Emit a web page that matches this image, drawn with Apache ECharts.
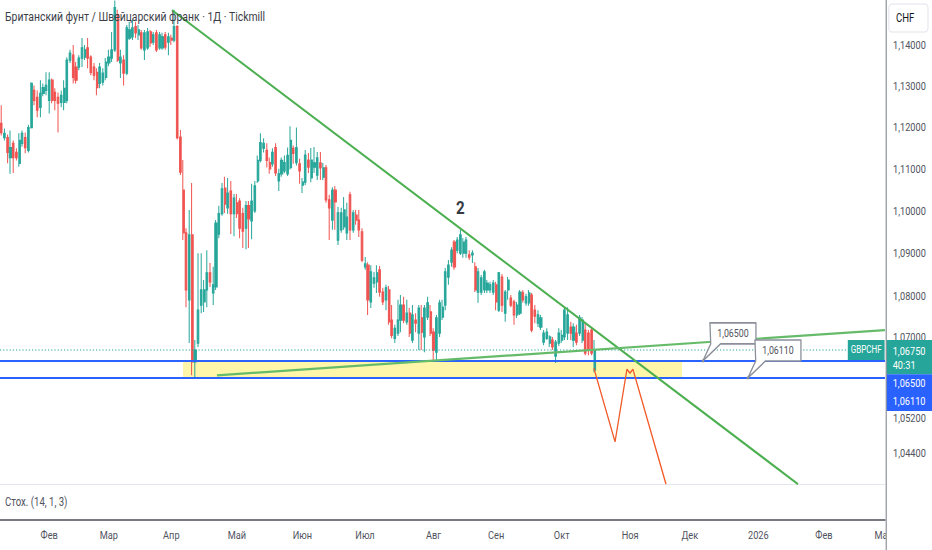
<!DOCTYPE html>
<html><head><meta charset="utf-8">
<script src="https://cdn.jsdelivr.net/npm/echarts@6/dist/echarts.min.js"></script>
<style>
html,body{margin:0;padding:0;background:#fff;overflow:hidden;width:932px;height:550px;}
#c{width:1165px;height:550px;transform:scaleX(0.8);transform-origin:0 0;}
</style></head><body><div id="c"></div>
<script>
// ---------- data ----------
const title = 'Британский фунт / Швейцарский франк · 1Д · Tickmill';
const stochLabel = 'Стох. (14, 1, 3)';
const monthNames = ['Янв','Фев','Мар','Апр','Май','Июн','Июл','Авг','Сен','Окт','Ноя','Дек'];
const firstDay = Date.UTC(2025, 0, 10);
const barCount = 297;
// daily candles [open, close, low, high]
const ohlc = [
[1.1209,1.1187,1.1180,1.1253],[1.1175,1.1185,1.1168,1.1197],[1.1175,1.1139,1.1113,1.1182],[1.1127,1.1151,1.1088,1.1192],
[1.1161,1.1127,1.1090,1.1168],[1.1139,1.1127,1.1120,1.1149],[1.1113,1.1168,1.1105,1.1185],[1.1161,1.1185,1.1153,1.1192],
[1.1175,1.1151,1.1137,1.1187],[1.1144,1.1199,1.1139,1.1206],[1.1199,1.1306,1.1197,1.1309],[1.1289,1.1265,1.1253,1.1301],
[1.1272,1.1241,1.1224,1.1289],[1.1248,1.1282,1.1224,1.1314],[1.1282,1.1296,1.1275,1.1306],[1.1289,1.1301,1.1277,1.1333],
[1.1265,1.1314,1.1233,1.1333],[1.1314,1.1265,1.1258,1.1318],[1.1284,1.1265,1.1241,1.1294],[1.1272,1.1258,1.1187,1.1284],
[1.1260,1.1277,1.1248,1.1289],[1.1260,1.1294,1.1241,1.1314],[1.1265,1.1363,1.1258,1.1370],[1.1363,1.1380,1.1356,1.1388],
[1.1375,1.1321,1.1306,1.1400],[1.1346,1.1314,1.1306,1.1358],[1.1346,1.1368,1.1338,1.1375],[1.1368,1.1393,1.1346,1.1417],
[1.1370,1.1388,1.1363,1.1400],[1.1393,1.1368,1.1343,1.1417],[1.1370,1.1333,1.1326,1.1375],[1.1346,1.1326,1.1314,1.1356],
[1.1333,1.1296,1.1277,1.1343],[1.1306,1.1346,1.1294,1.1356],[1.1309,1.1331,1.1301,1.1343],[1.1321,1.1358,1.1314,1.1368],
[1.1356,1.1370,1.1348,1.1388],[1.1368,1.1388,1.1358,1.1432],[1.1388,1.1492,1.1383,1.1510],[1.1475,1.1363,1.1358,1.1487],
[1.1356,1.1370,1.1319,1.1388],[1.1363,1.1331,1.1301,1.1375],[1.1331,1.1442,1.1326,1.1449],[1.1417,1.1437,1.1412,1.1457],
[1.1420,1.1442,1.1412,1.1462],[1.1445,1.1430,1.1417,1.1457],[1.1425,1.1437,1.1412,1.1449],[1.1430,1.1393,1.1388,1.1437],
[1.1388,1.1430,1.1363,1.1437],[1.1393,1.1432,1.1388,1.1442],[1.1432,1.1405,1.1395,1.1437],[1.1407,1.1425,1.1400,1.1432],
[1.1430,1.1388,1.1383,1.1437],[1.1393,1.1425,1.1388,1.1432],[1.1393,1.1420,1.1388,1.1430],[1.1425,1.1395,1.1388,1.1432],
[1.1407,1.1420,1.1375,1.1430],[1.1417,1.1412,1.1400,1.1425],[1.1412,1.1445,1.1407,1.1487],[1.1445,1.1175,1.1170,1.1449],
[1.1176,1.1092,1.1085,1.1193],[1.1049,1.0948,1.0931,1.1121],[1.0948,1.0814,1.0774,1.0959],[1.0791,1.0943,1.0691,1.1002],
[1.0943,1.0648,1.0617,1.1066],[1.0648,1.0675,1.0610,1.0698],[1.0691,1.0767,1.0682,1.0900],[1.0779,1.0814,1.0760,1.0900],
[1.0786,1.0814,1.0763,1.0837],[1.0814,1.0854,1.0774,1.0907],[1.0854,1.0833,1.0821,1.0877],[1.0807,1.0826,1.0779,1.0868],
[1.0821,1.0971,1.0814,1.0978],[1.0945,1.0993,1.0935,1.1012],[1.0993,1.1052,1.0988,1.1066],[1.1054,1.1016,1.0995,1.1081],
[1.1007,1.1042,1.0993,1.1078],[1.1047,1.0993,1.0945,1.1071],[1.0993,1.1030,1.0940,1.1040],[1.1019,1.0993,1.0983,1.1040],
[1.1023,1.0959,1.0935,1.1030],[1.0993,1.0952,1.0912,1.1007],[1.0959,1.1012,1.0909,1.1023],[1.1012,1.0981,1.0912,1.1023],
[1.0976,1.1023,1.0933,1.1064],[1.1000,1.1059,1.0995,1.1071],[1.1071,1.1120,1.1066,1.1132],[1.1120,1.1163,1.1115,1.1185],
[1.1149,1.1161,1.1139,1.1173],[1.1144,1.1120,1.1103,1.1161],[1.1115,1.1100,1.1088,1.1127],[1.1112,1.1139,1.1105,1.1149],
[1.1151,1.1090,1.1083,1.1161],[1.1071,1.1088,1.1047,1.1100],[1.1088,1.1120,1.1081,1.1127],[1.1095,1.1115,1.1090,1.1132],
[1.1088,1.1132,1.1083,1.1151],[1.1103,1.1168,1.1098,1.1202],[1.1149,1.1137,1.1112,1.1156],[1.1115,1.1151,1.1108,1.1199],
[1.1112,1.1095,1.1064,1.1124],[1.1061,1.1068,1.1042,1.1078],[1.1068,1.1133,1.1061,1.1145],[1.1121,1.1104,1.1090,1.1138],
[1.1078,1.1121,1.1068,1.1150],[1.1104,1.1114,1.1090,1.1152],[1.1085,1.1126,1.1073,1.1140],[1.1114,1.1102,1.1073,1.1140],
[1.1080,1.1102,1.1073,1.1114],[1.1102,1.1026,1.1019,1.1109],[1.1026,1.1007,1.0931,1.1038],[1.0978,1.1049,1.0955,1.1056],
[1.1049,1.1021,1.0955,1.1059],[1.0931,1.0995,1.0919,1.1009],[1.0955,1.0995,1.0948,1.1007],[1.0962,1.1002,1.0955,1.1033],
[1.0948,1.0985,1.0931,1.1019],[1.1038,1.0955,1.0931,1.1045],[1.0955,1.0995,1.0948,1.1002],[1.0990,1.0978,1.0967,1.1002],
[1.0978,1.0955,1.0938,1.1002],[1.0950,1.0884,1.0879,1.0959],[1.0868,1.0875,1.0861,1.0891],[1.0872,1.0791,1.0756,1.0879],
[1.0786,1.0856,1.0772,1.0872],[1.0830,1.0842,1.0819,1.0856],[1.0833,1.0854,1.0807,1.0872],[1.0861,1.0809,1.0798,1.0870],
[1.0809,1.0786,1.0779,1.0819],[1.0791,1.0819,1.0767,1.0826],[1.0814,1.0740,1.0733,1.0823],[1.0744,1.0709,1.0702,1.0779],
[1.0702,1.0725,1.0691,1.0733],[1.0714,1.0744,1.0707,1.0791],[1.0744,1.0779,1.0716,1.0802],[1.0779,1.0744,1.0737,1.0798],
[1.0740,1.0760,1.0733,1.0791],[1.0760,1.0714,1.0705,1.0772],[1.0698,1.0756,1.0691,1.0779],[1.0744,1.0737,1.0716,1.0760],
[1.0714,1.0772,1.0675,1.0779],[1.0749,1.0716,1.0675,1.0779],[1.0705,1.0772,1.0670,1.0779],[1.0751,1.0784,1.0744,1.0798],
[1.0763,1.0714,1.0707,1.0779],[1.0716,1.0675,1.0652,1.0725],[1.0670,1.0749,1.0652,1.0756],[1.0714,1.0784,1.0705,1.0791],
[1.0751,1.0774,1.0744,1.0791],[1.0779,1.0856,1.0767,1.0865],[1.0844,1.0872,1.0826,1.0884],[1.0879,1.0907,1.0868,1.0914],
[1.0926,1.0868,1.0861,1.0931],[1.0907,1.0931,1.0900,1.0938],[1.0900,1.0943,1.0896,1.0955],[1.0900,1.0926,1.0889,1.0936],
[1.0900,1.0931,1.0889,1.0938],[1.0896,1.0891,1.0884,1.0907],[1.0896,1.0900,1.0877,1.0907],[1.0868,1.0814,1.0809,1.0879],
[1.0809,1.0856,1.0784,1.0865],[1.0809,1.0842,1.0802,1.0849],[1.0814,1.0856,1.0807,1.0861],[1.0814,1.0830,1.0807,1.0837],
[1.0814,1.0826,1.0807,1.0833],[1.0809,1.0830,1.0802,1.0837],[1.0826,1.0786,1.0767,1.0833],[1.0767,1.0854,1.0763,1.0856],
[1.0844,1.0779,1.0763,1.0851],[1.0760,1.0809,1.0740,1.0814],[1.0814,1.0837,1.0791,1.0844],[1.0795,1.0779,1.0774,1.0802],
[1.0786,1.0756,1.0733,1.0791],[1.0756,1.0779,1.0749,1.0786],[1.0760,1.0809,1.0756,1.0814],[1.0807,1.0791,1.0784,1.0814],
[1.0784,1.0798,1.0777,1.0805],[1.0784,1.0807,1.0777,1.0814],[1.0802,1.0721,1.0716,1.0807],[1.0767,1.0753,1.0737,1.0779],
[1.0737,1.0756,1.0728,1.0767],[1.0728,1.0749,1.0721,1.0756],[1.0693,1.0714,1.0686,1.0721],[1.0702,1.0716,1.0698,1.0725],
[1.0691,1.0705,1.0682,1.0709],[1.0698,1.0682,1.0675,1.0705],[1.0661,1.0693,1.0645,1.0698],[1.0691,1.0714,1.0684,1.0725],
[1.0698,1.0709,1.0691,1.0721],[1.0705,1.0767,1.0698,1.0774],[1.0714,1.0756,1.0698,1.0774],[1.0728,1.0714,1.0698,1.0740],
[1.0698,1.0728,1.0682,1.0737],[1.0714,1.0693,1.0686,1.0733],[1.0714,1.0749,1.0707,1.0756],[1.0698,1.0744,1.0691,1.0751],
[1.0721,1.0668,1.0663,1.0737],[1.0714,1.0675,1.0663,1.0721],[1.0721,1.0668,1.0663,1.0725],[1.0629,1.0675,1.0624,1.0698]
];
const priceTicks = [1.044, 1.052, 1.07, 1.08, 1.09, 1.10, 1.11, 1.12, 1.13, 1.14];
const priceMin = 1.03713, priceMax = 1.1511;
const lastPrice = 1.0675;
const lastTagTexts = ['1,06750', '40:31'];
const levelPrices = [1.065, 1.0611];
const levelTexts = ['1,06500', '1,06110'];
const trendDown = [[57.2, 1.1486], [267.3, 1.0371]];
const trendUp = [[72.3, 1.0617], [296.5, 1.0721]];
const projection = [[198.8, 1.0633], [205.9, 1.0466], [209.9, 1.0631], [210.9, 1.0622], [211.9, 1.0631], [223.0, 1.0371]];
const zone = [[60.9, 1.065], [228.4, 1.0611]];
const callouts = [[235.4, 1.065, '1,06500'], [250.5, 1.0611, '1,06110']];
const waveLabel = [154, 1.1009, '2'];

// ---------- categories (weekday bars) ----------
const dates = [];
for (let t = firstDay; dates.length < barCount; t += 86400000) {
  const d = new Date(t); const w = d.getUTCDay();
  if (w !== 0 && w !== 6) dates.push(d.toISOString().slice(0, 10));
}
const fullSpan = (p) => [[-0.5, p], [barCount - 0.5, p]];

const FONT = 'Roboto';
const RIGHT = 58.75;
const W = 1165, H = 550;
const up = '#26a69a', down = '#ef5350';

const chart = echarts.init(document.getElementById('c'), null, {renderer: 'svg', width: W, height: H});
const option = {
  animation: false,
  backgroundColor: '#ffffff',
  grid: [
    {left: 0, right: RIGHT, top: 0, bottom: 66},
    {left: 0, right: RIGHT, top: 484, bottom: 30}
  ],
  xAxis: [
    {type: 'category', gridIndex: 0, data: dates, boundaryGap: true,
     axisLine: {show: true, lineStyle: {color: '#e0e3eb', width: 1}}, axisTick: {show: false},
     axisLabel: {show: false}, splitLine: {show: false}},
    {type: 'value', gridIndex: 0, min: -0.5, max: barCount - 0.5, show: false},
    {type: 'category', gridIndex: 1, data: dates, boundaryGap: true,
     axisLine: {show: true, lineStyle: {color: '#4a4d57', width: 1.5}}, axisTick: {show: false},
     splitLine: {show: false},
     axisLabel: {
       color: '#50535e', fontSize: 11.5, fontFamily: FONT, margin: 9,
       interval: (i, v) => i > 0 && v.slice(5, 7) !== dates[i - 1].slice(5, 7),
       formatter: (v) => { const m = +v.slice(5, 7); return m === 1 ? v.slice(0, 4) : monthNames[m - 1]; }
     }}
  ],
  yAxis: [
    {type: 'log', logBase: 10, gridIndex: 0, position: 'right', min: priceMin, max: priceMax,
     axisLine: {show: false}, axisTick: {show: false}, splitLine: {show: false},
     axisLabel: {customValues: priceTicks, color: '#50535e', fontSize: 11.5, fontFamily: FONT, margin: 10,
       formatter: (v) => {
         const s = Number(v).toFixed(5).replace('.', ',');
         return Math.abs(v - lastPrice) < 0.004 ? '{lift|' + s + '}' : s;
       },
       rich: {lift: {color: '#50535e', fontSize: 11.5, fontFamily: FONT, padding: [0, 0, 5, 0]}}}},
    {type: 'value', gridIndex: 1, min: 0, max: 100, show: false}
  ],
  series: [
    {type: 'line', name: 'zone', xAxisIndex: 1, yAxisIndex: 0, data: zone, symbol: 'none', silent: true,
     lineStyle: {opacity: 0}, z: 1,
     markArea: {silent: true, itemStyle: {color: 'rgba(255,238,100,0.55)'},
       data: [[{coord: zone[0]}, {coord: zone[1]}]]}},
    {type: 'candlestick', name: 'GBPCHF', xAxisIndex: 0, yAxisIndex: 0, data: ohlc, barWidth: 2.6, z: 2,
     itemStyle: {color: up, color0: down, borderColor: up, borderColor0: down, borderWidth: 1.25}},
    {type: 'line', name: 'lastPrice', xAxisIndex: 1, yAxisIndex: 0, data: fullSpan(lastPrice), symbol: 'none', silent: true, z: 3,
     lineStyle: {color: up, width: 1.2, type: [1.5, 2.5]}},
    {type: 'line', name: 'trendDown', xAxisIndex: 1, yAxisIndex: 0, data: trendDown, symbol: 'none', z: 4,
     lineStyle: {color: '#4caf50', width: 2.2}},
    {type: 'line', name: 'trendUp', xAxisIndex: 1, yAxisIndex: 0, data: trendUp, symbol: 'none', z: 4,
     lineStyle: {color: '#66bb6a', width: 2.2}},
    {type: 'line', name: 'projection', xAxisIndex: 1, yAxisIndex: 0, data: projection, symbol: 'none', z: 4,
     lineStyle: {color: '#f05a28', width: 1.6}},
    {type: 'line', name: 'level1', xAxisIndex: 1, yAxisIndex: 0, data: fullSpan(levelPrices[0]), symbol: 'none', silent: true, z: 3,
     lineStyle: {color: '#2962ff', width: 2}},
    {type: 'line', name: 'level2', xAxisIndex: 1, yAxisIndex: 0, data: fullSpan(levelPrices[1]), symbol: 'none', silent: true, z: 3,
     lineStyle: {color: '#2962ff', width: 2}},
    {type: 'line', name: 'stoch', xAxisIndex: 2, yAxisIndex: 1, data: [], symbol: 'none'}
  ]
};
chart.setOption(option);

// ---------- overlays positioned through the chart's own scales ----------
const toPx = (x, p) => chart.convertToPixel({seriesIndex: 3}, [x, p]);
const axisX = W - RIGHT;
const g = [];
g.push({type: 'text', x: 6.25, y: 17, z: 50, style: {text: title, fill: '#3b3e48', font: '13px ' + FONT, textVerticalAlign: 'middle'}});
g.push({type: 'text', x: 6.25, y: 502, z: 50, style: {text: stochLabel, fill: '#50535e', font: '12px ' + FONT, textVerticalAlign: 'middle'}});
g.push({type: 'rect', z: 100, shape: {x: axisX + 1, y: 521, width: W - axisX, height: 29}, style: {fill: '#fff'}});
g.push({type: 'line', z: 101, shape: {x1: axisX + 1.5, y1: 0, x2: axisX + 1.5, y2: H}, style: {stroke: '#787b86', lineWidth: 1.25}});
g.push({type: 'rect', z: 60, shape: {x: 1111, y: 4, width: 49, height: 28, r: 4}, style: {fill: '#fff', stroke: '#e0e3eb', lineWidth: 1.2}});
g.push({type: 'text', z: 61, x: 1120, y: 18.5, style: {text: 'CHF', fill: '#131722', font: '12px ' + FONT, textVerticalAlign: 'middle'}});
const yp = toPx(0, lastPrice)[1];
g.push({type: 'rect', z: 60, shape: {x: axisX + 2, y: yp - 10, width: W - axisX - 2, height: 34.3}, style: {fill: up}});
g.push({type: 'text', z: 61, x: axisX + 9.6, y: yp + 1.5, style: {text: lastTagTexts[0], fill: '#fff', font: '11.5px ' + FONT, textVerticalAlign: 'middle'}});
g.push({type: 'text', z: 61, x: axisX + 9.6, y: yp + 15, style: {text: lastTagTexts[1], fill: '#fff', font: '11.5px ' + FONT, textVerticalAlign: 'middle'}});
g.push({type: 'rect', z: 60, shape: {x: axisX - 46.5, y: yp - 10, width: 46, height: 20}, style: {fill: up}});
g.push({type: 'text', z: 61, x: axisX - 23.5, y: yp, style: {text: 'GBPCHF', fill: '#fff', font: '10px ' + FONT, textAlign: 'center', textVerticalAlign: 'middle'}});
g.push({type: 'rect', z: 60, shape: {x: axisX + 2, y: yp + 24.3, width: W - axisX - 2, height: 36.7}, style: {fill: '#2962ff'}});
levelTexts.forEach((t, i) => g.push({type: 'text', z: 61, x: axisX + 9.6, y: yp + 33 + i * 18.4,
  style: {text: t, fill: '#fff', font: '11.5px ' + FONT, textVerticalAlign: 'middle'}}));
callouts.forEach(([cx, cp, txt]) => {
  const [ax, ay] = toPx(cx, cp);
  const bx0 = ax + 8.75, bx1 = ax + 66.25, by0 = ay - 38, by1 = ay - 17;
  g.push({type: 'polygon', z: 40, shape: {points: [[bx0, by0], [bx1, by0], [bx1, by1], [ax + 22, by1], [ax, ay], [bx0 + 1, by1]]},
    style: {fill: '#fff', stroke: '#8c8f9a', lineWidth: 1.6, lineJoin: 'round'}});
  g.push({type: 'circle', z: 41, shape: {cx: ax, cy: ay, r: 1.6}, style: {fill: '#8c8f9a'}});
  g.push({type: 'text', z: 41, x: (bx0 + bx1) / 2, y: (by0 + by1) / 2, style: {text: txt, fill: '#50535e', font: '11px ' + FONT, textAlign: 'center', textVerticalAlign: 'middle'}});
});
const wp = toPx(waveLabel[0], waveLabel[1]);
g.push({type: 'text', z: 41, x: wp[0], y: wp[1], style: {text: waveLabel[2], fill: '#363a45', font: 'bold 19px ' + FONT, textAlign: 'center', textVerticalAlign: 'middle'}});

chart.setOption({graphic: g});
</script></body></html>
